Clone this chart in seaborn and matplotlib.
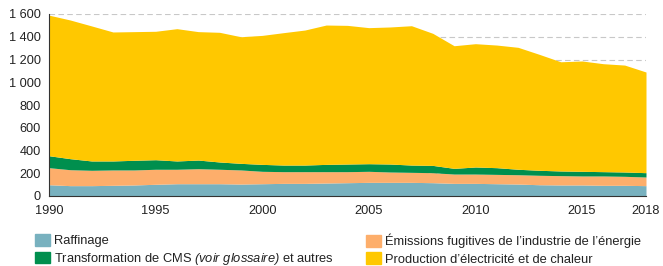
import numpy as np
import pandas as pd
import matplotlib
matplotlib.use('Agg')
import matplotlib.pyplot as plt
import matplotlib.patches as mpatches
import matplotlib.ticker as mticker
import seaborn as sns

sns.set_style('white')
plt.rcParams['font.family'] = ['Liberation Sans', 'DejaVu Sans']
# la partie mathtext ne sert qu'à l'italique "(voir glossaire)"
plt.rcParams['mathtext.fontset'] = 'custom'
plt.rcParams['mathtext.rm'] = 'Liberation Sans:italic'
plt.rcParams['mathtext.it'] = 'Liberation Sans:italic'

# données, Mt CO2e
annees = list(range(1990, 2019))
raffinage = [99, 91, 91, 94, 97, 103, 108, 108, 108, 105, 108, 111, 111, 114, 117,
             120, 120, 120, 117, 111, 111, 108, 105, 99, 97, 97, 94, 94, 91]
fugitives = [150, 140, 135, 135, 132, 132, 127, 132, 127, 124, 109, 103, 103, 100, 97,
             97, 91, 88, 88, 82, 82, 82, 82, 83, 82, 79, 82, 79, 76]
cms = [105, 97, 82, 79, 85, 84, 73, 76, 64, 58, 61, 58, 58, 64, 67,
       67, 70, 64, 64, 50, 62, 59, 48, 44, 41, 41, 38, 38, 38]
electricite = [1236, 1219, 1187, 1134, 1131, 1129, 1163, 1129, 1140, 1113, 1134, 1164, 1187, 1225, 1219,
               1196, 1205, 1225, 1161, 1078, 1084, 1078, 1072, 1019, 960, 970, 949, 940, 885]

df = pd.DataFrame({'annee': annees, 'raffinage': raffinage, 'fugitives': fugitives,
                   'cms': cms, 'electricite': electricite})

couleurs = ['#78b1bf', '#fdae6b', '#008f4e', '#ffc800']
libelles = ['Raffinage',
            "Émissions fugitives de l\u2019industrie de l\u2019énergie",
            r'Transformation de CMS $(voir\ glossaire)$ et autres',
            "Production d\u2019électricité et de chaleur"]

fig = plt.figure(figsize=(6.63, 2.66), dpi=100)
ax = fig.add_axes([49 / 663, 1 - 196 / 266, (646 - 49) / 663, (196 - 14) / 266])

ax.stackplot(df['annee'], df['raffinage'], df['fugitives'], df['cms'], df['electricite'],
             colors=couleurs, linewidth=0)

ax.set_xlim(1990, 2018)
ax.set_ylim(0, 1600)
ax.yaxis.set_major_locator(mticker.MultipleLocator(200))
ax.yaxis.set_major_formatter(mticker.FuncFormatter(lambda v, p: f'{int(v):,}'.replace(',', ' ')))
ax.set_xticks(annees, minor=True)
ax.set_xticks([1990, 1995, 2000, 2005, 2010, 2015, 2018])

ax.yaxis.grid(True, linestyle=(0, (5, 3)), color='#c8c8c8', linewidth=0.8)
ax.set_axisbelow(True)

for s in ['top', 'right']:
    ax.spines[s].set_visible(False)
for s in ['left', 'bottom']:
    ax.spines[s].set_color('#333333')
    ax.spines[s].set_linewidth(0.8)

ax.tick_params(axis='both', which='both', direction='out', color='#333333',
               labelsize=9.2, labelcolor='#222222', width=0.8)
ax.tick_params(axis='y', length=4, pad=2)
ax.tick_params(axis='x', which='both', length=5, pad=1.5)

poignees = [mpatches.Patch(color=c) for c in couleurs]
kw = dict(frameon=False, loc='upper left', fontsize=9.3, handlelength=1.15, handleheight=1.0,
          handletextpad=0.3, labelspacing=0.3, borderpad=0, borderaxespad=0)
leg1 = fig.legend([poignees[0], poignees[2]], [libelles[0], libelles[2]],
                  bbox_to_anchor=(35 / 663, 1 - 234 / 266), **kw)
leg2 = fig.legend([poignees[1], poignees[3]], [libelles[1], libelles[3]],
                  bbox_to_anchor=(366 / 663, 1 - 234 / 266), **kw)
for leg in (leg1, leg2):
    for t in leg.get_texts():
        t.set_color('#222222')

fig.savefig('out.png', dpi=100)
